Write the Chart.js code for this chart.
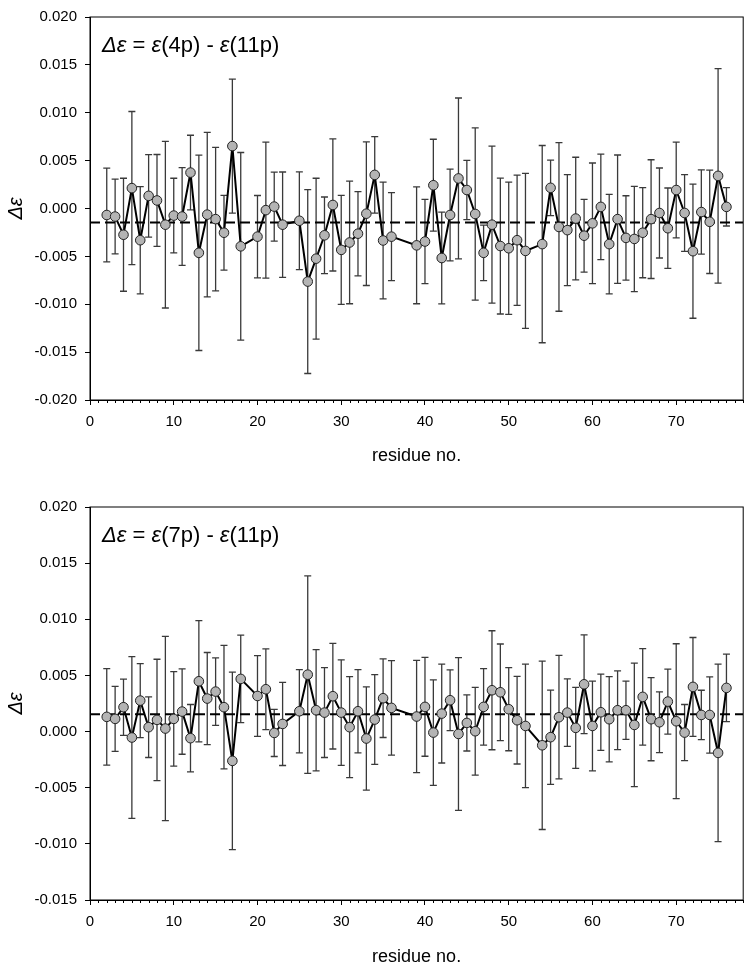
<!doctype html>
<html>
<head>
<meta charset="UTF-8">
<title>Δε per residue</title>
<style>
  html, body { margin: 0; padding: 0; background: #fff; overflow: hidden; }
  canvas { position: absolute; left: 0; }
  #topChart { top: 0; }
  #bottomChart { top: 475px; }
</style>
</head>
<body>
<canvas id="topChart" width="749" height="474"></canvas>
<canvas id="bottomChart" width="749" height="500"></canvas>
<script src="https://cdn.jsdelivr.net/npm/chart.js@4.4.1/dist/chart.umd.min.js"></script>
<script>
// residues 19, 24, 37, 38 and 53 have no value
const residues = [2,3,4,5,6,7,8,9,10,11,12,13,14,15,16,17,18,20,21,22,23,25,26,27,28,29,30,31,32,33,34,35,36,
                  39,40,41,42,43,44,45,46,47,48,49,50,51,52,54,55,56,57,58,59,60,61,62,63,64,65,66,67,68,69,70,
                  71,72,73,74,75,76];

// delta eps = eps(4p) - eps(11p)
const dTop = [-0.00068,-0.00084,-0.00274,0.00213,-0.00331,0.00132,0.00084,-0.00169,-0.00074,-0.00084,0.00375,
              -0.00463,-0.00064,-0.00111,-0.00253,0.00652,-0.00395,-0.00294,-0.00017,0.00020,-0.00169,
              -0.00128,-0.00763,-0.00524,-0.00280,0.00037,-0.00432,-0.00355,-0.00263,-0.00054,0.00351,-0.00334,-0.00294,
              -0.00385,-0.00345,0.00243,-0.00517,-0.00068,0.00314,0.00193,-0.00057,-0.00463,-0.00169,-0.00392,-0.00415,
              -0.00331,-0.00443,-0.00372,0.00216,-0.00193,-0.00226,-0.00105,-0.00284,-0.00155,0.00017,-0.00372,
              -0.00111,-0.00307,-0.00318,-0.00253,-0.00111,-0.00047,-0.00206,0.00193,-0.00047,-0.00446,-0.00037,
              -0.00139,0.00341,0.00017];
const errTop = [0.0049,0.0039,0.0059,0.0080,0.0056,0.0043,0.0048,0.0087,0.0039,0.0051,0.0039,
                0.0102,0.0086,0.0075,0.0039,0.0070,0.0098,0.0043,0.0071,0.0036,0.0055,
                0.0051,0.0096,0.0084,0.0040,0.0069,0.0057,0.0064,0.0044,0.0075,0.0040,0.0061,0.0046,
                0.0061,0.0044,0.0048,0.0048,0.0048,0.0084,0.0031,0.0090,0.0029,0.0082,0.0071,0.0069,
                0.0068,0.0081,0.0103,0.0029,0.0088,0.0058,0.0064,0.0038,0.0063,0.0055,0.0052,
                0.0067,0.0044,0.0055,0.0047,0.0062,0.0047,0.0042,0.0050,0.0040,0.0070,0.0044,
                0.0054,0.0112,0.0020];
const meanTop = -0.00145;

// delta eps = eps(7p) - eps(11p)
const dBottom = [0.00131,0.00113,0.00217,-0.00053,0.00276,0.00039,0.00104,0.00027,0.00113,0.00178,-0.00059,
                 0.00448,0.00294,0.00356,0.00217,-0.00261,0.00469,0.00317,0.00377,-0.00012,0.00068,
                 0.00181,0.00507,0.00190,0.00169,0.00315,0.00169,0.00039,0.00181,-0.00062,0.00107,0.00297,0.00211,
                 0.00134,0.00220,-0.00009,0.00160,0.00279,-0.00021,0.00077,0.00003,0.00220,0.00368,0.00350,0.00199,
                 0.00101,0.00050,-0.00122,-0.00050,0.00128,0.00169,0.00033,0.00421,0.00050,0.00172,0.00110,
                 0.00190,0.00190,0.00059,0.00309,0.00110,0.00083,0.00267,0.00092,-0.00009,0.00398,0.00148,
                 0.00148,-0.00190,0.00389];
const errBottom = [0.0043,0.0029,0.0025,0.0072,0.0033,0.0027,0.0054,0.0082,0.0042,0.0038,0.0030,
                   0.0054,0.0041,0.0030,0.0055,0.0079,0.0039,0.0036,0.0036,0.0021,0.0037,
                   0.0037,0.0088,0.0054,0.0040,0.0047,0.0047,0.0045,0.0037,0.0046,0.0040,0.0035,0.0042,
                   0.0050,0.0044,0.0047,0.0044,0.0027,0.0068,0.0025,0.0039,0.0034,0.0053,0.0043,0.0037,
                   0.0039,0.0055,0.0075,0.0042,0.0055,0.0030,0.0036,0.0044,0.0040,0.0034,0.0038,
                   0.0035,0.0026,0.0055,0.0043,0.0037,0.0027,0.0029,0.0069,0.0025,0.0044,0.0022,
                   0.0034,0.0079,0.0030];
const meanBottom = 0.00155;

const xTicks = [0,10,20,30,40,50,60,70];
const yTicksTop = [-0.020,-0.015,-0.010,-0.005,0,0.005,0.010,0.015,0.020];
const yTicksBottom = [-0.015,-0.010,-0.005,0,0.005,0.010,0.015,0.020];

const FONT = '"Liberation Sans", Arial, sans-serif';
Chart.defaults.font.family = FONT;
Chart.defaults.color = '#000';

// vertical error bars with caps, drawn under the line and markers
const errorBars = {
  id: 'errorBars',
  beforeDatasetsDraw(chart, args, opts) {
    const {ctx, scales: {x, y}} = chart;
    ctx.save();
    ctx.strokeStyle = '#3a3a3a';
    ctx.lineWidth = 1.3;
    opts.errors.forEach((e, i) => {
      const px = x.getPixelForValue(residues[i]);
      const top = y.getPixelForValue(opts.values[i] + e);
      const bot = y.getPixelForValue(opts.values[i] - e);
      ctx.beginPath();
      ctx.moveTo(px, top); ctx.lineTo(px, bot);
      ctx.moveTo(px - 3.5, top); ctx.lineTo(px + 3.5, top);
      ctx.moveTo(px - 3.5, bot); ctx.lineTo(px + 3.5, bot);
      ctx.stroke();
    });
    ctx.restore();
  }
};

// closed frame + minor ticks on the residue axis
const frame = {
  id: 'frame',
  afterDraw(chart) {
    const {ctx, chartArea: a, scales: {x}} = chart;
    ctx.save();
    ctx.strokeStyle = '#000';
    ctx.lineWidth = 1;
    ctx.strokeRect(a.left, a.top, a.right - a.left, a.bottom - a.top);
    ctx.beginPath();
    for (let r = 1; r <= x.max; r++) {
      if (r % 10 === 0) continue;
      const px = Math.round(x.getPixelForValue(r)) + 0.5;
      ctx.moveTo(px, a.bottom);
      ctx.lineTo(px, a.bottom + 3);
    }
    ctx.stroke();
    ctx.restore();
  }
};

// "Δε = ε(4p) - ε(11p)" with the Greek letters in italics
const panelLabel = {
  id: 'panelLabel',
  afterDraw(chart, args, opts) {
    const {ctx, chartArea: a} = chart;
    let x = a.left + 12;
    const y = a.top + 35;
    ctx.save();
    ctx.fillStyle = '#000';
    ctx.textBaseline = 'alphabetic';
    opts.parts.forEach(p => {
      ctx.font = (p.italic ? 'italic ' : '') + '22px ' + FONT;
      ctx.fillText(p.text, x, y);
      x += ctx.measureText(p.text).width;
    });
    ctx.restore();
  }
};

function labelParts(a, b) {
  return [
    {text: 'Δε', italic: true}, {text: ' = '},
    {text: 'ε', italic: true}, {text: '(' + a + ') - '},
    {text: 'ε', italic: true}, {text: '(' + b + ')'}
  ];
}

function makeChart(id, values, errors, mean, yTicks, padTop, xAxisHeight, parts) {
  const axisGrid = {drawOnChartArea: false, drawTicks: true, tickLength: 5, color: '#000', tickColor: '#000'};
  new Chart(document.getElementById(id), {
    type: 'line',
    data: {
      datasets: [{
        data: residues.map((r, i) => ({x: r, y: values[i]})),
        borderColor: '#000',
        borderWidth: 2,
        pointRadius: 4.8,
        pointBorderWidth: 1,
        pointBackgroundColor: '#b4b4b4',
        pointBorderColor: '#222',
        tension: 0
      }, {
        data: [{x: 0, y: mean}, {x: 78, y: mean}],
        borderColor: '#000',
        borderWidth: 2,
        borderDash: [10, 5],
        pointRadius: 0
      }]
    },
    options: {
      responsive: false,
      animation: false,
      layout: {padding: {top: padTop, right: 3, left: 0, bottom: 0}},
      scales: {
        x: {
          type: 'linear', min: 0, max: 78,
          afterBuildTicks: s => { s.ticks = xTicks.map(v => ({value: v})); },
          afterFit: s => { s.height = xAxisHeight; },
          ticks: {font: {size: 15}, padding: 8, maxRotation: 0, autoSkip: false},
          grid: axisGrid,
          border: {display: true, color: '#000', width: 1},
          title: {display: true, text: 'residue no.', font: {size: 18}, padding: {top: 0, bottom: 7.5}}
        },
        y: {
          type: 'linear', min: yTicks[0], max: yTicks[yTicks.length - 1],
          afterBuildTicks: s => { s.ticks = yTicks.map(v => ({value: v})); },
          afterFit: s => { s.width = 90; },
          ticks: {font: {size: 15}, padding: 8,
                  callback: v => (Math.abs(v) < 1e-9 ? 0 : v).toFixed(3)},
          grid: axisGrid,
          border: {display: true, color: '#000', width: 1},
          title: {display: true, text: 'Δε', font: {size: 20, style: 'italic'}, padding: {top: 4, bottom: 0}}
        }
      },
      plugins: {
        legend: {display: false},
        tooltip: {enabled: false},
        errorBars: {values: values, errors: errors},
        panelLabel: {parts: parts}
      }
    },
    plugins: [errorBars, frame, panelLabel]
  });
}

makeChart('topChart', dTop, errTop, meanTop, yTicksTop, 7, 74, labelParts('4p', '11p'));
makeChart('bottomChart', dBottom, errBottom, meanBottom, yTicksBottom, 32, 75, labelParts('7p', '11p'));
</script>
</body>
</html>
